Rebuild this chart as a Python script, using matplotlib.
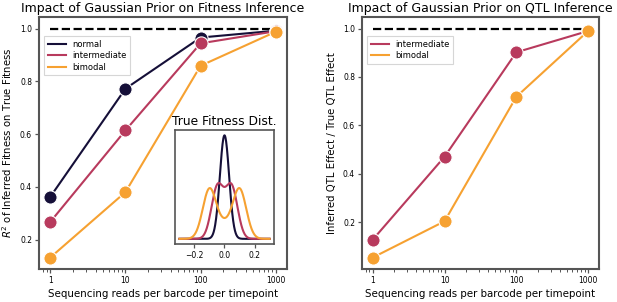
import numpy as np
import matplotlib
matplotlib.use("Agg")
import matplotlib.pyplot as plt

# ---- data ----
reads = [1, 10, 100, 1000]
fit_normal = [0.362, 0.772, 0.966, 0.992]
fit_intermediate = [0.267, 0.614, 0.944, 0.990]
fit_bimodal = [0.132, 0.380, 0.859, 0.988]

qtl_intermediate = [0.127, 0.470, 0.902, 0.990]
qtl_bimodal = [0.053, 0.203, 0.718, 0.990]

xtick_labels = ["1", "10", "100", "1000"]

# inset distributions: gaussian bumps (amplitude, centre, sd)
dist_normal = [(1.00, 0.0, 0.031)]
dist_intermediate = [(0.50, -0.047, 0.040), (0.50, 0.047, 0.040)]
dist_bimodal = [(0.48, -0.10, 0.045), (0.48, 0.10, 0.045), (0.12, 0.0, 0.045)]
dist_x = np.linspace(-0.3, 0.3, 601)

colors = {"normal": "#150f38", "intermediate": "#b83a5d", "bimodal": "#f6a131"}
spine_col = "#555555"

plt.rcParams["font.family"] = "DejaVu Sans"

fig = plt.figure(figsize=(6.17, 3.02), dpi=100)
ax1 = fig.add_axes([0.0632, 0.1093, 0.402, 0.834])
ax2 = fig.add_axes([0.5867, 0.1093, 0.384, 0.834])


def style(ax):
    for s in ax.spines.values():
        s.set_color(spine_col)
        s.set_linewidth(1.5)
    ax.tick_params(axis="both", which="major", labelsize=5.5, color=spine_col,
                   length=3, width=0.9, pad=2)
    ax.tick_params(axis="both", which="minor", color=spine_col, length=1.8, width=0.7)


def line(ax, y, name):
    ax.plot(reads, y, color=colors[name], lw=1.5, marker="o", markersize=9.5,
            markeredgecolor="white", markeredgewidth=0.8, label=name, zorder=3)


# left
ax1.plot(reads, [1, 1, 1, 1], color="black", ls="--", lw=1.6, zorder=2)
line(ax1, fit_normal, "normal")
line(ax1, fit_intermediate, "intermediate")
line(ax1, fit_bimodal, "bimodal")
ax1.set_xscale("log")
ax1.set_xticks(reads)
ax1.set_xticklabels(xtick_labels)
ax1.set_yticks([0.2, 0.4, 0.6, 0.8, 1.0])
style(ax1)
ax1.set_title("Impact of Gaussian Prior on Fitness Inference", fontsize=9, pad=4)
ax1.set_xlabel("Sequencing reads per barcode per timepoint", fontsize=7.4, labelpad=3)
ax1.set_ylabel(r"$R^2$ of Inferred Fitness on True Fitness", fontsize=7.3, labelpad=4)
leg = ax1.legend(loc="upper left", bbox_to_anchor=(0.005, 0.94), fontsize=6,
                 markerscale=0, handlelength=2.2, frameon=True, fancybox=False,
                 borderpad=0.4, labelspacing=0.3)
leg.get_frame().set_edgecolor("#cccccc")
leg.get_frame().set_linewidth(0.8)

# right
ax2.plot(reads, [1, 1, 1, 1], color="black", ls="--", lw=1.6, zorder=2)
line(ax2, qtl_intermediate, "intermediate")
line(ax2, qtl_bimodal, "bimodal")
ax2.set_xscale("log")
ax2.set_xticks(reads)
ax2.set_xticklabels(xtick_labels)
ax2.set_yticks([0.2, 0.4, 0.6, 0.8, 1.0])
style(ax2)
ax2.set_title("Impact of Gaussian Prior on QTL Inference", fontsize=9, pad=4)
ax2.set_xlabel("Sequencing reads per barcode per timepoint", fontsize=7.4, labelpad=3)
ax2.set_ylabel("Inferred QTL Effect / True QTL Effect", fontsize=7.3, labelpad=4)
leg2 = ax2.legend(loc="upper left", bbox_to_anchor=(0.005, 0.94), fontsize=6,
                  markerscale=0, handlelength=2.2, frameon=True, fancybox=False,
                  borderpad=0.4, labelspacing=0.3)
leg2.get_frame().set_edgecolor("#cccccc")
leg2.get_frame().set_linewidth(0.8)

# inset
axi = fig.add_axes([0.2836, 0.192, 0.1605, 0.377])


def mix(params):
    return sum(a * np.exp(-0.5 * ((dist_x - m) / s) ** 2) for a, m, s in params)


axi.plot(dist_x, mix(dist_normal), color=colors["normal"], lw=1.5)
axi.plot(dist_x, mix(dist_intermediate), color=colors["intermediate"], lw=1.5)
axi.plot(dist_x, mix(dist_bimodal), color=colors["bimodal"], lw=1.5)
axi.set_yticks([])
axi.set_xticks([-0.2, 0.0, 0.2])
for s in axi.spines.values():
    s.set_color(spine_col)
    s.set_linewidth(1.2)
axi.tick_params(axis="x", labelsize=5.5, color=spine_col, length=3, width=0.9, pad=2)
axi.set_title("True Fitness Dist.", fontsize=8.8, pad=4)

fig.savefig("out.png", dpi=100)
